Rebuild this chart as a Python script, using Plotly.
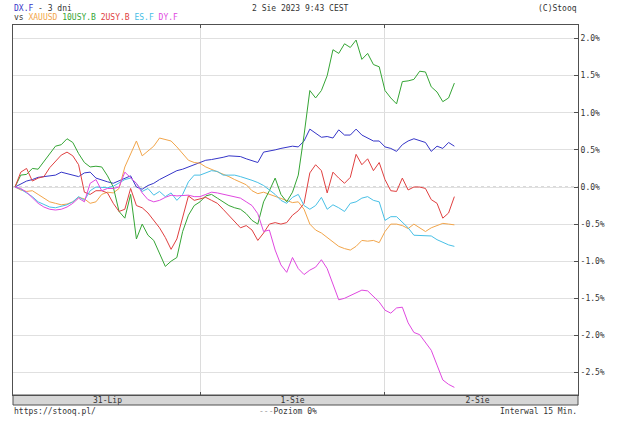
import pandas as pd
import plotly.graph_objects as go

# time grid (45-minute samples from 31-Lip 00:00)
times = pd.date_range("2023-07-31 00:00", periods=77, freq="45min")

dxf = [0.0, 0.04, 0.08, 0.1, 0.13, 0.14, 0.15, 0.16, 0.2, 0.18, 0.15, 0.14, 0.19, 0.2, 0.12, 0.09,
       0.07, 0.05, 0.08, 0.12, 0.15, 0.0, -0.03, 0.02, 0.05, 0.1, 0.14, 0.18, 0.22, 0.24, 0.27, 0.3,
       0.33, 0.36, 0.37, 0.38, 0.40, 0.42, 0.42, 0.41, 0.38, 0.36, 0.33, 0.47, 0.48, 0.5, 0.52, 0.53,
       0.55, 0.54, 0.62, 0.78, 0.72, 0.67, 0.68, 0.66, 0.77, 0.70, 0.70, 0.78, 0.70, 0.66, 0.62, 0.62,
       0.54, 0.52, 0.48, 0.57, 0.62, 0.65, 0.62, 0.6, 0.48, 0.55, 0.52, 0.6, 0.55]

xauusd = [0.0, -0.04, -0.06, -0.05, -0.1, -0.15, -0.2, -0.22, -0.24, -0.23, -0.2, -0.14, -0.16, -0.22,
          -0.2, -0.1, -0.07, -0.08, -0.02, 0.27, 0.45, 0.62, 0.42, 0.48, 0.55, 0.66, 0.64, 0.62, 0.54,
          0.45, 0.36, 0.33, 0.32, 0.27, 0.24, 0.2, 0.17, 0.14, 0.1, 0.07, 0.03, -0.05, -0.09, -0.07,
          -0.1, -0.12, -0.15, -0.18, -0.21, -0.2, -0.3, -0.5, -0.58, -0.62, -0.68, -0.74, -0.8, -0.83,
          -0.85, -0.8, -0.72, -0.73, -0.72, -0.75, -0.6, -0.5, -0.5, -0.52, -0.56, -0.5, -0.55, -0.6,
          -0.55, -0.52, -0.49, -0.5, -0.51]

usy10 = [0.0, 0.16, 0.17, 0.25, 0.24, 0.34, 0.45, 0.55, 0.57, 0.65, 0.6, 0.45, 0.33, 0.27, 0.28, 0.27,
         0.15, 0.0, -0.33, -0.42, -0.1, -0.7, -0.5, -0.65, -0.72, -0.9, -1.07, -1.0, -0.95, -0.6, -0.38,
         -0.25, -0.2, -0.12, -0.1, -0.15, -0.2, -0.25, -0.28, -0.3, -0.36, -0.45, -0.5, -0.2, -0.05,
         0.12, -0.1, -0.2, -0.07, 0.16, 0.7, 1.3, 1.2, 1.3, 1.5, 1.85, 1.8, 1.93, 1.88, 1.98, 1.72, 1.8,
         1.65, 1.62, 1.3, 1.2, 1.12, 1.42, 1.43, 1.45, 1.56, 1.55, 1.35, 1.28, 1.15, 1.2, 1.4]

usy2 = [0.0, 0.2, 0.25, 0.08, 0.12, 0.14, 0.26, 0.34, 0.43, 0.47, 0.42, 0.3, -0.07, -0.1, -0.05, -0.05,
        -0.08, -0.22, -0.33, -0.3, -0.02, -0.25, -0.28, -0.35, -0.45, -0.55, -0.68, -0.84, -0.7, -0.4,
        -0.12, -0.18, -0.16, -0.14, -0.18, -0.22, -0.3, -0.38, -0.47, -0.55, -0.52, -0.58, -0.72, -0.62,
        -0.5, -0.48, -0.5, -0.48, -0.38, -0.32, -0.22, 0.19, 0.3, 0.22, -0.08, 0.2, 0.12, 0.05, 0.13,
        0.44, 0.3, 0.38, 0.22, 0.33, 0.1, -0.05, -0.06, 0.12, -0.04, 0.0, 0.0, -0.02, -0.17, -0.22,
        -0.42, -0.35, -0.13]

esf = [0.0, -0.03, -0.08, -0.13, -0.2, -0.24, -0.27, -0.28, -0.26, -0.24, -0.2, -0.13, -0.18, -0.05,
       0.0, -0.01, -0.01, 0.01, 0.06, 0.1, 0.12, 0.05, -0.06, -0.02, -0.11, -0.06, -0.13, -0.08, -0.18,
       -0.1, 0.07, 0.16, 0.16, 0.19, 0.22, 0.21, 0.16, 0.16, 0.16, 0.14, 0.12, 0.09, 0.06, 0.02, -0.04,
       -0.1, -0.18, -0.22, -0.14, -0.1, -0.25, -0.3, -0.25, -0.14, -0.3, -0.24, -0.28, -0.33, -0.22,
       -0.2, -0.15, -0.13, -0.18, -0.2, -0.45, -0.4, -0.4, -0.47, -0.55, -0.65, -0.65, -0.66, -0.66,
       -0.71, -0.75, -0.78, -0.8]

dyf = [0.0, -0.02, -0.07, -0.15, -0.22, -0.27, -0.3, -0.31, -0.3, -0.27, -0.22, -0.15, -0.2, 0.05, 0.1,
       -0.05, -0.02, -0.02, 0.0, 0.2, 0.13, 0.05, -0.08, -0.17, -0.2, -0.18, -0.14, -0.11, -0.12, -0.12,
       -0.11, -0.13, -0.13, -0.1, -0.07, -0.08, -0.1, -0.12, -0.13, -0.15, -0.2, -0.25, -0.36, -0.6,
       -0.58, -0.85, -1.05, -1.15, -0.95, -1.1, -1.18, -1.12, -1.08, -0.98, -1.1, -1.3, -1.52, -1.5,
       -1.46, -1.42, -1.39, -1.4, -1.47, -1.55, -1.66, -1.7, -1.63, -1.62, -1.83, -1.96, -1.99, -2.1,
       -2.2, -2.4, -2.6, -2.66, -2.7]

series_names = ["DX.F", "XAUUSD", "10USY.B", "2USY.B", "ES.F", "DY.F"]
series_vals = [dxf, xauusd, usy10, usy2, esf, dyf]
series_colors = ["#3535c8", "#f2a54a", "#35a535", "#e04040", "#48c0e6", "#e048e0"]

y_ticks = [2.0, 1.5, 1.0, 0.5, 0.0, -0.5, -1.0, -1.5, -2.0, -2.5]
y_labels = ["2.0%", "1.5%", "1.0%", "0.5%", "0.0%", "-0.5%", "-1.0%", "-1.5%", "-2.0%", "-2.5%"]
day_centers = ["2023-07-31 12:00", "2023-08-01 12:00", "2023-08-02 12:00"]
day_labels = ["31-Lip", "1-Sie", "2-Sie"]
day_bounds = ["2023-08-01 00:00", "2023-08-02 00:00"]

FONT = "DejaVu Sans Mono"
FRAME = "#505050"

fig = go.Figure()
for name, vals, col in zip(series_names, series_vals, series_colors):
    fig.add_trace(go.Scatter(x=times, y=vals, name=name, mode="lines",
                             line=dict(color=col, width=1), showlegend=False,
                             hoverinfo="skip"))

PH = 370.0
fig.update_layout(
    width=625, height=422,
    margin=dict(l=13, r=47, t=25, b=27),
    paper_bgcolor="white", plot_bgcolor="white",
    font=dict(family=FONT, size=8, color="#333333"),
    xaxis=dict(type="date", range=["2023-07-30 23:44:24", "2023-08-03 01:02:24"],
               tickmode="array", tickvals=day_centers, ticktext=day_labels,
               ticks="", showgrid=False, zeroline=False, ticklabelstandoff=-3,
               showline=True, linecolor=FRAME, linewidth=1, mirror="ticks",
               tickfont=dict(family=FONT, size=8, color="#333333"),
               minor=dict(tickmode="array", tickvals=day_bounds, showgrid=True,
                          gridcolor="#dcdcdc", gridwidth=1, ticks="inside",
                          ticklen=3, tickcolor=FRAME)),
    yaxis=dict(side="right", range=[-2.803, 2.183], tickmode="array",
               tickvals=y_ticks, ticktext=y_labels, ticks="inside", ticklen=4,
               tickcolor=FRAME, showline=True, linecolor=FRAME, linewidth=1,
               mirror=True, showgrid=True, gridcolor="#e0e0e0", gridwidth=1,
               zeroline=False, tickfont=dict(family=FONT, size=8, color="#333333")),
    shapes=[
        dict(type="line", xref="paper", x0=0, x1=1, yref="y", y0=0, y1=0,
             line=dict(color="white", width=1), layer="below"),
        dict(type="line", xref="paper", x0=0, x1=1, yref="y", y0=0, y1=0,
             line=dict(color="#b4b4b4", width=1, dash="3px,3px"), layer="below"),
        dict(type="rect", xref="paper", x0=0, x1=1, yref="paper", y0=-10 / PH, y1=0,
             fillcolor="#d6d6d6", line=dict(color=FRAME, width=1), layer="below"),
    ],
)

hdr1 = "<span style='color:#3535c8'>DX.F</span> - 3 dni"
hdr2 = ("vs <span style='color:#f2a54a'>XAUUSD</span> "
        "<span style='color:#35a535'>10USY.B</span> "
        "<span style='color:#e04040'>2USY.B</span> "
        "<span style='color:#48c0e6'>ES.F</span> "
        "<span style='color:#e048e0'>DY.F</span>")
ann = [
    dict(text=hdr1, x=0, y=1 + 17 / PH, xanchor="left", yanchor="middle"),
    dict(text=hdr2, x=0, y=1 + 8 / PH, xanchor="left", yanchor="middle"),
    dict(text="2 Sie 2023 9:43 CEST", x=(300 - 13) / 565, y=1 + 17 / PH,
         xanchor="center", yanchor="middle"),
    dict(text="(C)Stooq", x=1, y=1 + 17 / PH, xanchor="right", yanchor="middle"),
    dict(text="https://stooq.pl/", x=0, y=-16 / PH, xanchor="left", yanchor="middle"),
    dict(text="<span style='color:#a0a0a0'>---</span>Poziom 0%", x=(288 - 13) / 565,
         y=-16 / PH, xanchor="center", yanchor="middle"),
    dict(text="Interwal 15 Min.", x=1, y=-16 / PH, xanchor="right", yanchor="middle"),
]
for a in ann:
    fig.add_annotation(xref="paper", yref="paper", showarrow=False,
                       font=dict(family=FONT, size=8, color="#333333"),
                       borderpad=0, **a)

fig.write_html("out.html")
